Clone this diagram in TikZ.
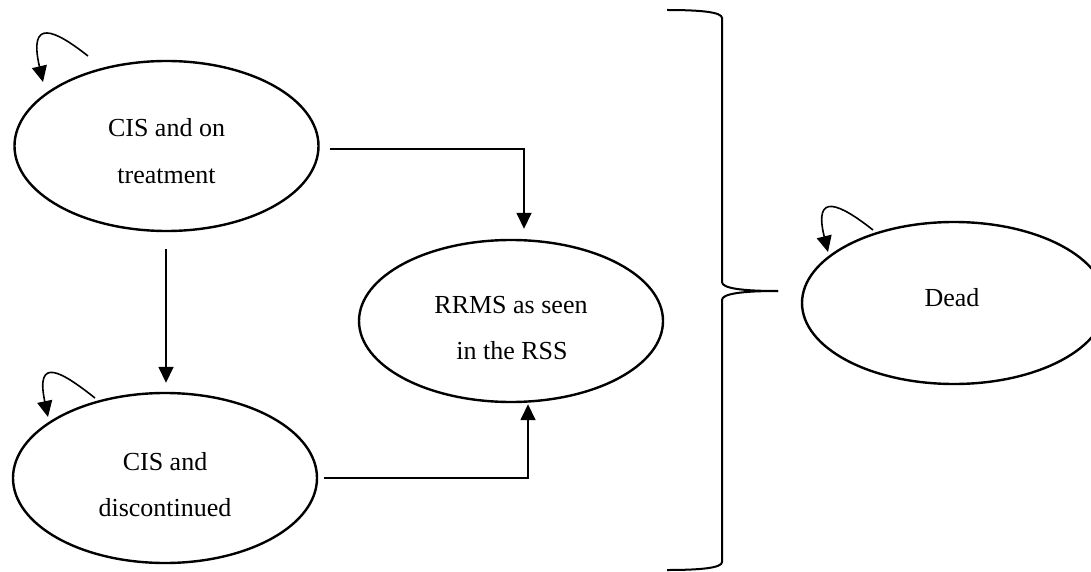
\documentclass[tikz,border=0pt]{standalone}
\usepackage{fontspec}
\setmainfont{Liberation Serif}
\usetikzlibrary{shapes.geometric,arrows.meta}
\begin{document}
\begin{tikzpicture}[x=1pt,y=-1pt,
  state/.style={draw, ellipse, line width=2.4pt, inner sep=0pt, minimum width=304pt, minimum height=170pt},
  lbl/.style={anchor=base, inner sep=0pt, font=\fontsize{26}{30}\selectfont},
  conn/.style={line width=1.6pt, -{Triangle[length=16pt,width=15pt]}},
  bracestyle/.style={line width=2pt}]
\useasboundingbox (0,0) rectangle (1091,572);
\fill[white] (0,0) rectangle (1091,572);
\clip (0,0) rectangle (1091,572);

\node[state] (e1) at (166.5,146) {};
\node[state] (e2) at (165,478) {};
\node[state, minimum height=162pt] (rr) at (511,321) {};
\node[state, minimum height=162pt] (dead) at (954,303) {};

\node[lbl] (t1a) at (166.5,137) {CIS and on};
\node[lbl] (t1b) at (166.5,183) {treatment};
\node[lbl] (t2a) at (165,470) {CIS and};
\node[lbl] (t2b) at (165,516) {discontinued};
\node[lbl] (t3a) at (511,313) {RRMS as seen};
\node[lbl] (t3b) at (512,359) {in the RSS};
\node[lbl] (t4) at (952,306) {Dead};

% connectors (yshift is in canvas units: positive = up)
\draw[conn] ([xshift=10pt,yshift=-3pt]e1.east) -| ([xshift=13pt,yshift=10pt]rr.north);
\draw[conn] ([xshift=-0.5pt,yshift=-17pt]e1.south) -- ([xshift=1pt,yshift=9pt]e2.north);
\draw[conn] ([xshift=6pt]e2.east) -| ([xshift=17pt,yshift=-1pt]rr.south);

% self loops
\coordinate (l1s) at (88,56);
\coordinate (l1e) at (43,82);
\coordinate (l2s) at (95,398);
\coordinate (l2e) at (48,417);
\coordinate (l3s) at (873,230);
\coordinate (l3e) at (828,252);
\draw[conn] (l1s) .. controls (55,30) and (28,17) .. (l1e);
\draw[conn] (l2s) .. controls (62,372) and (35,355) .. (l2e);
\draw[conn] (l3s) .. controls (840,204) and (813,191) .. (l3e);

% brace
\coordinate (btop) at (667,10);
\coordinate (btip) at (778,291);
\coordinate (bbot) at (667,570);
\draw[bracestyle] (btop) .. controls (700,10) and (722,12) .. (722,18) -- (722,282)
  .. controls (722,288) and (740,291) .. (btip);
\draw[bracestyle] (btip) .. controls (740,291) and (722,294) .. (722,300) -- (722,562)
  .. controls (722,568) and (700,570) .. (bbot);
\end{tikzpicture}
\end{document}
